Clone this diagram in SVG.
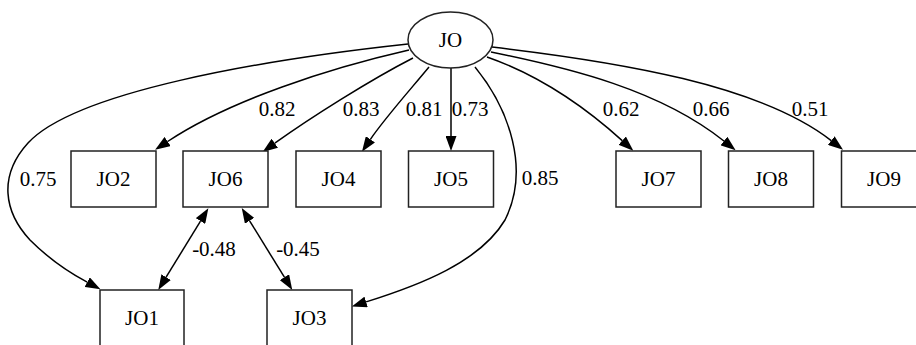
<svg xmlns="http://www.w3.org/2000/svg" width="916" height="345" viewBox="0 0 916 345">
  <style>
    .node rect, .node ellipse { fill: #ffffff; stroke: #222222; stroke-width: 1.5; }
    .node text, .label { font-family: "Liberation Serif", "Times New Roman", serif; font-size: 21px; fill: #000000; text-anchor: middle; }
    .edge { fill: none; stroke: #000000; stroke-width: 1.5; marker-end: url(#head); }
    .both { marker-start: url(#head); }
  </style>
  <defs>
    <marker id="head" viewBox="0 0 15 11" refX="0" refY="5.5" markerUnits="userSpaceOnUse" markerWidth="15" markerHeight="11" orient="auto-start-reverse">
      <path d="M0,0 L15,5.5 L0,11 Z" fill="#000000"/>
    </marker>
  </defs>

  <rect width="916" height="345" fill="#ffffff"/>

  <!-- connectors -->
  <g id="edges">
    <path class="edge" d="M408,44 C260,60 75,92 28,143 C-2,176 4,212 30,240 C50,260 70,273 87.2,282.2"/>
    <path class="edge" d="M409,50 C330,68 230,100 167.6,141.5"/>
    <path class="edge" d="M413,58 C370,80 310,118 274.8,143.2"/>
    <path class="edge" d="M429,67 C410,90 385,118 370.4,139.3"/>
    <path class="edge" d="M451,68 L451,136"/>
    <path class="edge" d="M475,67 C510,110 530,170 505,220 C480,262 420,285 366.1,301.9"/>
    <path class="edge" d="M487,57 C530,72 575,98 622.2,140.6"/>
    <path class="edge" d="M491,52 C570,68 660,90 723.9,141"/>
    <path class="edge" d="M492,47 C620,62 760,85 831.2,140.6"/>
    <path class="edge both" d="M200.5,221.1 L166.1,277.2"/>
    <path class="edge both" d="M249.6,220.8 L284.4,277.2"/>

    <text class="label" x="38" y="186">0.75</text>
    <text class="label" x="277" y="116">0.82</text>
    <text class="label" x="361" y="116">0.83</text>
    <text class="label" x="424" y="116">0.81</text>
    <text class="label" x="470" y="116">0.73</text>
    <text class="label" x="540" y="185">0.85</text>
    <text class="label" x="621" y="116">0.62</text>
    <text class="label" x="711" y="116">0.66</text>
    <text class="label" x="810" y="116">0.51</text>
    <text class="label" x="214" y="256">-0.48</text>
    <text class="label" x="298" y="256">-0.45</text>
  </g>

  <!-- nodes -->
  <g id="JO" class="node">
    <ellipse cx="450.5" cy="40" rx="42.5" ry="28"/>
    <text x="450.5" y="47">JO</text>
  </g>
  <g id="JO2" class="node">
    <rect x="71" y="151" width="85" height="56"/>
    <text x="113.5" y="186">JO2</text>
  </g>
  <g id="JO6" class="node">
    <rect x="183" y="151" width="85" height="56"/>
    <text x="225.5" y="186">JO6</text>
  </g>
  <g id="JO4" class="node">
    <rect x="296" y="151" width="85" height="56"/>
    <text x="338.5" y="186">JO4</text>
  </g>
  <g id="JO5" class="node">
    <rect x="408.5" y="151" width="85" height="56"/>
    <text x="451" y="186">JO5</text>
  </g>
  <g id="JO7" class="node">
    <rect x="616" y="151" width="85" height="56"/>
    <text x="658.5" y="186">JO7</text>
  </g>
  <g id="JO8" class="node">
    <rect x="728.5" y="151" width="85" height="56"/>
    <text x="771" y="186">JO8</text>
  </g>
  <g id="JO9" class="node">
    <rect x="841.5" y="151" width="85" height="56"/>
    <text x="884" y="186">JO9</text>
  </g>
  <g id="JO1" class="node">
    <rect x="100" y="290" width="84" height="56"/>
    <text x="142" y="325">JO1</text>
  </g>
  <g id="JO3" class="node">
    <rect x="267" y="290" width="85" height="56"/>
    <text x="309.5" y="325">JO3</text>
  </g>
</svg>
